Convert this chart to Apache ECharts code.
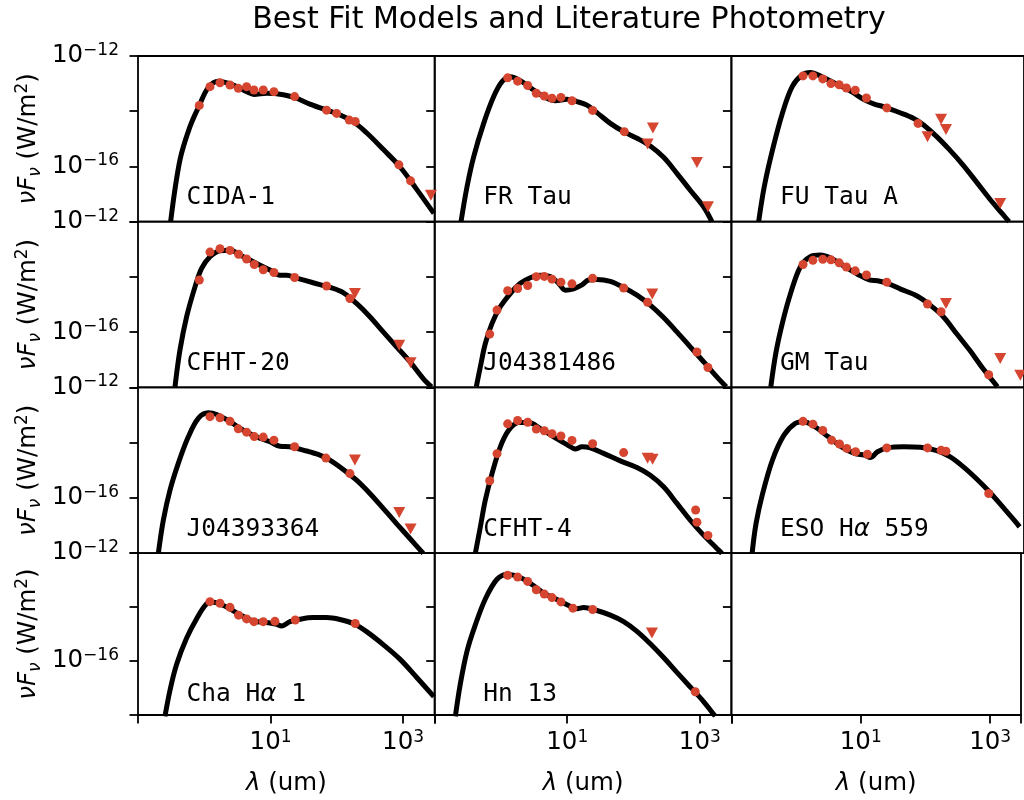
<!DOCTYPE html>
<html><head><meta charset="utf-8">
<script src="https://cdn.jsdelivr.net/npm/echarts@6/dist/echarts.min.js"></script>
<style>html,body{margin:0;padding:0;background:#fff}#c{width:1024px;height:800px}</style>
</head><body><div id="c"></div><script>
// All values are log10: wavelength in um, nuF_nu in W/m^2
const panelNames = ['CIDA-1','FR Tau','FU Tau A','CFHT-20','J04381486','GM Tau','J04393364','CFHT-4','ESO H{a|α} 559','Cha H{a|α} 1','Hn 13'];
const xTickValues = [1, 3];
const yTickValues = [-12, -16];

const cida1ModelLogLam = [-0.507,-0.367,-0.216,-0.075,0.061,0.212,0.438,0.639,0.750,0.941,1.192,1.368,1.594,1.846,1.997,2.248,2.449,2.700,2.952,3.203,3.465];
const cida1ModelLogF   = [-17.99,-15.77,-14.56,-13.79,-13.14,-12.91,-13.05,-13.29,-13.39,-13.35,-13.40,-13.51,-13.74,-13.96,-14.08,-14.38,-14.78,-15.38,-16.01,-16.82,-17.70];
const cida1PhotLogLam  = [-0.075,0.086,0.237,0.388,0.513,0.639,0.750,0.890,1.051,1.363,1.846,1.997,2.188,2.278,2.937,3.113];
const cida1PhotLogF    = [-13.79,-13.11,-12.97,-13.05,-13.17,-13.11,-13.23,-13.23,-13.29,-13.47,-13.96,-14.08,-14.32,-14.37,-15.94,-16.52];
const cida1LimLogLam   = [3.42];
const cida1LimLogF     = [-17.04];

const frModelLogLam = [-0.603,-0.512,-0.412,-0.261,-0.110,0.016,0.141,0.292,0.493,0.669,0.820,0.996,1.147,1.298,1.448,1.650,1.851,2.052,2.253,2.454,2.655,2.856,3.057,3.183];
const frModelLogF   = [-18.00,-16.73,-15.65,-14.44,-13.47,-12.93,-12.75,-12.89,-13.23,-13.50,-13.62,-13.57,-13.65,-13.78,-14.05,-14.44,-14.74,-14.98,-15.26,-15.67,-16.25,-16.86,-17.46,-18.00];
const frPhotLogLam  = [0.101,0.252,0.403,0.533,0.654,0.770,0.905,1.071,1.383,1.861];
const frPhotLogF    = [-12.79,-12.91,-13.07,-13.35,-13.45,-13.53,-13.50,-13.62,-13.97,-14.74];
const frLimLogLam   = [2.213,2.293,2.957,3.123];
const frLimLogF     = [-15.19,-14.61,-15.86,-17.46];

const fuModelLogLam = [-0.583,-0.497,-0.372,-0.221,-0.070,0.081,0.207,0.383,0.584,0.835,1.036,1.187,1.338,1.539,1.790,1.941,2.142,2.343,2.545,2.746,2.947,3.148,3.248];
const fuModelLogF   = [-18.00,-16.73,-15.41,-14.08,-13.11,-12.69,-12.60,-12.75,-12.99,-13.29,-13.59,-13.74,-13.84,-14.02,-14.26,-14.50,-14.92,-15.41,-15.95,-16.55,-17.16,-17.72,-18.00];
const fuPhotLogLam  = [0.096,0.247,0.398,0.523,0.649,0.760,0.895,1.066,1.378,1.856];
const fuPhotLogF    = [-12.72,-12.72,-12.83,-13.00,-13.04,-13.16,-13.24,-13.52,-13.88,-14.44];
const fuLimLogLam   = [2.001,2.208,2.283,3.113];
const fuLimLogF     = [-14.92,-14.29,-14.66,-17.34];

const c20ModelLogLam = [-0.442,-0.367,-0.266,-0.140,-0.040,0.086,0.237,0.388,0.589,0.790,0.991,1.142,1.242,1.393,1.644,1.896,2.097,2.298,2.499,2.700,2.901,3.103,3.304,3.429];
const c20ModelLogF   = [-17.98,-16.65,-15.44,-14.36,-13.69,-13.27,-13.05,-13.03,-13.27,-13.51,-13.75,-13.94,-13.94,-14.04,-14.21,-14.38,-14.57,-14.96,-15.44,-15.99,-16.53,-17.07,-17.68,-17.98];
const c20PhotLogLam  = [-0.075,0.086,0.237,0.388,0.518,0.639,0.755,0.890,1.051,1.363,1.846,2.198];
const c20PhotLogF    = [-14.11,-13.10,-12.98,-13.04,-13.18,-13.35,-13.55,-13.74,-13.84,-14.02,-14.33,-14.78];
const c20LimLogLam   = [2.273,2.942,3.113];
const c20LimLogF     = [-14.60,-16.47,-17.11];

const j1ModelLogLam = [-0.372,-0.311,-0.236,-0.135,-0.010,0.141,0.292,0.443,0.594,0.745,0.870,0.971,1.097,1.222,1.323,1.448,1.650,1.851,2.052,2.253,2.454,2.655,2.856,3.057,3.258,3.399];
const j1ModelLogF   = [-17.98,-17.25,-16.41,-15.68,-15.08,-14.60,-14.23,-14.03,-13.94,-13.99,-14.23,-14.48,-14.43,-14.29,-14.11,-14.09,-14.16,-14.38,-14.66,-15.02,-15.47,-15.99,-16.53,-17.07,-17.62,-17.98];
const j1PhotLogLam  = [-0.170,-0.060,0.101,0.252,0.403,0.533,0.654,0.770,0.905,1.071,1.383,1.851,2.213,2.957,3.123];
const j1PhotLogF    = [-16.07,-15.20,-14.50,-14.42,-14.31,-13.99,-13.98,-14.08,-14.19,-14.25,-14.05,-14.40,-14.92,-16.72,-17.28];
const j1LimLogLam   = [2.283];
const j1LimLogF     = [-14.62];

const gmModelLogLam = [-0.397,-0.321,-0.221,-0.095,0.056,0.207,0.357,0.533,0.735,0.936,1.112,1.237,1.388,1.589,1.841,2.042,2.243,2.444,2.645,2.846,3.072];
const gmModelLogF   = [-17.98,-16.77,-15.68,-14.60,-13.63,-13.27,-13.21,-13.33,-13.63,-13.91,-14.11,-14.14,-14.23,-14.44,-14.69,-15.02,-15.44,-16.05,-16.65,-17.31,-17.98];
const gmPhotLogLam  = [0.096,0.247,0.398,0.523,0.649,0.760,0.895,1.066,1.378,2.001,2.208,2.937];
const gmPhotLogF    = [-13.55,-13.40,-13.36,-13.38,-13.49,-13.64,-13.78,-13.93,-14.19,-14.98,-15.26,-17.54];
const gmLimLogLam   = [2.283,3.113,3.42];
const gmLimLogF     = [-14.96,-16.95,-17.56];

const j2ModelLogLam = [-0.693,-0.618,-0.517,-0.392,-0.241,-0.090,0.061,0.187,0.388,0.589,0.790,0.991,1.142,1.293,1.494,1.745,1.896,2.097,2.298,2.499,2.700,2.901,3.103,3.304];
const j2ModelLogF   = [-18.01,-16.81,-15.72,-14.75,-13.79,-13.12,-12.92,-12.98,-13.24,-13.55,-13.79,-13.97,-14.13,-14.15,-14.27,-14.45,-14.63,-14.97,-15.36,-15.84,-16.38,-16.93,-17.47,-18.01];
const j2PhotLogLam  = [0.086,0.237,0.388,0.513,0.639,0.755,0.890,1.051,1.363,1.836,2.198];
const j2PhotLogF    = [-13.06,-13.10,-13.23,-13.50,-13.62,-13.78,-13.80,-13.91,-14.15,-14.56,-15.12];
const j2LimLogLam   = [2.273,2.942,3.113];
const j2LimLogF     = [-14.63,-16.53,-17.13];

const c4ModelLogLam = [-0.387,-0.311,-0.236,-0.135,-0.010,0.116,0.267,0.418,0.594,0.795,0.996,1.122,1.222,1.348,1.549,1.800,2.052,2.253,2.454,2.655,2.856,3.057,3.258,3.334];
const c4ModelLogF   = [-18.01,-17.05,-16.08,-15.12,-14.15,-13.55,-13.27,-13.27,-13.49,-13.79,-14.07,-14.23,-14.15,-14.19,-14.39,-14.66,-14.90,-15.18,-15.60,-16.20,-16.81,-17.35,-17.83,-18.01];
const c4PhotLogLam  = [-0.170,-0.060,0.101,0.252,0.403,0.533,0.654,0.770,0.905,1.071,1.383,1.851,2.937,2.957,3.123];
const c4PhotLogF    = [-15.38,-14.40,-13.32,-13.20,-13.26,-13.51,-13.57,-13.68,-13.76,-13.92,-14.04,-14.36,-16.44,-16.88,-17.36];
const c4LimLogLam   = [2.213,2.288];
const c4LimLogF     = [-14.57,-14.60];

const esoModelLogLam = [-0.683,-0.623,-0.522,-0.372,-0.196,-0.020,0.106,0.282,0.483,0.684,0.885,1.036,1.127,1.237,1.388,1.639,1.891,2.142,2.343,2.545,2.746,2.947,3.148,3.349,3.409];
const esoModelLogF   = [-18.01,-16.93,-15.84,-14.63,-13.73,-13.30,-13.24,-13.43,-13.79,-14.15,-14.39,-14.45,-14.54,-14.33,-14.19,-14.15,-14.17,-14.29,-14.51,-14.87,-15.30,-15.78,-16.32,-16.87,-17.05];
const esoPhotLogLam  = [0.096,0.247,0.398,0.533,0.654,0.765,0.900,1.081,1.378,2.001,2.208,2.283,2.937];
const esoPhotLogF    = [-13.23,-13.33,-13.56,-13.91,-14.05,-14.21,-14.33,-14.42,-14.19,-14.19,-14.28,-14.31,-15.84];
const esoLimLogLam   = [];
const esoLimLogF     = [];

const chaModelLogLam = [-0.593,-0.517,-0.417,-0.266,-0.115,0.036,0.136,0.337,0.538,0.740,0.941,1.092,1.167,1.293,1.443,1.645,1.846,2.047,2.248,2.449,2.700,2.952,3.203,3.465];
const chaModelLogF   = [-18.05,-17.08,-16.12,-15.15,-14.43,-13.88,-13.82,-14.00,-14.28,-14.52,-14.57,-14.64,-14.70,-14.54,-14.45,-14.39,-14.39,-14.46,-14.61,-14.91,-15.39,-15.93,-16.60,-17.32];
const chaPhotLogLam  = [0.086,0.237,0.388,0.518,0.639,0.750,0.890,1.066,1.373,2.278];
const chaPhotLogF    = [-13.80,-13.86,-14.01,-14.30,-14.44,-14.54,-14.54,-14.53,-14.48,-14.61];
const chaLimLogLam   = [];
const chaLimLogF     = [];

const hnModelLogLam = [-0.688,-0.613,-0.512,-0.387,-0.236,-0.060,0.091,0.242,0.443,0.644,0.845,1.021,1.147,1.247,1.398,1.650,1.851,2.052,2.253,2.454,2.655,2.856,3.057,3.233];
const hnModelLogF   = [-18.05,-16.84,-15.63,-14.66,-13.70,-12.97,-12.79,-12.85,-13.12,-13.48,-13.72,-13.94,-14.06,-14.02,-14.09,-14.30,-14.54,-14.90,-15.36,-15.87,-16.42,-16.96,-17.50,-18.05];
const hnPhotLogLam  = [0.101,0.252,0.403,0.533,0.654,0.770,0.905,1.086,1.383,2.932];
const hnPhotLogF    = [-12.82,-12.89,-13.05,-13.36,-13.52,-13.65,-13.81,-14.04,-14.09,-17.14];
const hnLimLogLam   = [2.278];
const hnLimLogF     = [-14.96];

const panels = [
  [cida1ModelLogLam,cida1ModelLogF,cida1PhotLogLam,cida1PhotLogF,cida1LimLogLam,cida1LimLogF],
  [frModelLogLam,frModelLogF,frPhotLogLam,frPhotLogF,frLimLogLam,frLimLogF],
  [fuModelLogLam,fuModelLogF,fuPhotLogLam,fuPhotLogF,fuLimLogLam,fuLimLogF],
  [c20ModelLogLam,c20ModelLogF,c20PhotLogLam,c20PhotLogF,c20LimLogLam,c20LimLogF],
  [j1ModelLogLam,j1ModelLogF,j1PhotLogLam,j1PhotLogF,j1LimLogLam,j1LimLogF],
  [gmModelLogLam,gmModelLogF,gmPhotLogLam,gmPhotLogF,gmLimLogLam,gmLimLogF],
  [j2ModelLogLam,j2ModelLogF,j2PhotLogLam,j2PhotLogF,j2LimLogLam,j2LimLogF],
  [c4ModelLogLam,c4ModelLogF,c4PhotLogLam,c4PhotLogF,c4LimLogLam,c4LimLogF],
  [esoModelLogLam,esoModelLogF,esoPhotLogLam,esoPhotLogF,esoLimLogLam,esoLimLogF],
  [chaModelLogLam,chaModelLogF,chaPhotLogLam,chaPhotLogF,chaLimLogLam,chaLimLogF],
  [hnModelLogLam,hnModelLogF,hnPhotLogLam,hnPhotLogF,hnLimLogLam,hnLimLogF]
];

const RED = '#d5452f';
const FONT = 'DejaVu Sans';
const GL = 138, GT = 56, GW = 296.7, GH = 165.7;
const pts = (xs, ys) => xs.map((x, k) => [x, ys[k]]);

const tickRich = {
  b: {fontSize: 24.5, fontFamily: FONT, color: '#000', lineHeight: 28},
  s: {fontSize: 17, fontFamily: FONT, color: '#000', verticalAlign: 'top', lineHeight: 17}
};

const grids = [], xAxes = [], yAxes = [], series = [], graphics = [];
for (let i = 0; i < 12; i++) {
  const r = Math.floor(i / 3), c = i % 3;
  const left = GL + c * GW, top = GT + r * GH;
  const bottom = (r === 3);
  grids.push({left: left, top: top, width: GW, height: GH, show: true, borderColor: '#000', borderWidth: 1.8, backgroundColor: 'rgba(0,0,0,0)', containLabel: false});
  xAxes.push({
    gridIndex: i, type: 'value', min: -1, max: 3.477, interval: 2, position: 'bottom',
    splitLine: {show: false}, axisLine: {show: false, onZero: false},
    axisTick: {show: bottom, inside: false, length: 8.5, lineStyle: {color: '#000', width: 1.8}},
    axisLabel: {show: bottom, margin: 14, formatter: v => xTickValues.indexOf(v) >= 0 ? '{b|10}{s|' + v + '}' : '', rich: tickRich},
    name: bottom ? '{i|λ} (um)' : '', nameLocation: 'middle', nameGap: 54,
    nameTextStyle: {fontFamily: FONT, fontSize: 24.5, color: '#000', lineHeight: 30,
      rich: {i: {fontFamily: FONT, fontSize: 24.5, fontStyle: 'italic', color: '#000', lineHeight: 30}}}
  });
  yAxes.push({
    gridIndex: i, type: 'value', min: -18, max: -12, interval: 2, position: 'left',
    splitLine: {show: false}, axisLine: {show: false, onZero: false},
    axisTick: {show: true, inside: false, length: 8.5, lineStyle: {color: '#000', width: 1.8}},
    axisLabel: {show: c === 0, margin: 19, formatter: v => yTickValues.indexOf(v) >= 0 ? '{b|10}{s|\u2212' + (-v) + '}' : '', rich: tickRich},
    name: c === 0 ? '{i|νF}{sub|ν} (W/m{sup|2})' : '', nameLocation: 'middle', nameGap: 94,
    nameTextStyle: {fontFamily: FONT, fontSize: 24.5, color: '#000', lineHeight: 30,
      rich: {
        i: {fontFamily: FONT, fontSize: 24.5, fontStyle: 'italic', color: '#000', lineHeight: 30},
        sub: {fontFamily: FONT, fontSize: 17, fontStyle: 'italic', color: '#000', verticalAlign: 'bottom', lineHeight: 20},
        sup: {fontFamily: FONT, fontSize: 17, color: '#000', verticalAlign: 'top', lineHeight: 17}
      }}
  });
  if (i < panels.length) {
    const p = panels[i];
    series.push({type: 'line', xAxisIndex: i, yAxisIndex: i, data: pts(p[0], p[1]), symbol: 'none', showSymbol: false,
      smooth: 0.35, lineStyle: {color: '#000', width: 5}, clip: true, z: 2, silent: true});
    series.push({type: 'scatter', xAxisIndex: i, yAxisIndex: i, data: pts(p[2], p[3]), symbol: 'circle', symbolSize: 9,
      itemStyle: {color: RED, opacity: 1}, z: 3, silent: true});
    if (p[4].length) series.push({type: 'scatter', xAxisIndex: i, yAxisIndex: i, data: pts(p[4], p[5]), symbol: 'triangle', symbolRotate: 180,
      symbolSize: [12, 11], itemStyle: {color: RED, opacity: 1}, z: 3, silent: true});
    graphics.push({type: 'text', x: left + 48.5, y: top + 142, z: 10,
      style: {text: panelNames[i], fontFamily: 'DejaVu Sans Mono', fontSize: 24.5, fill: '#000', align: 'left', verticalAlign: 'middle',
        rich: {a: {fontFamily: FONT, fontStyle: 'italic', fontSize: 24.5, fill: '#000'}}}});
  }
}
graphics.push({type: 'text', x: 569, y: 20.5, style: {text: 'Best Fit Models and Literature Photometry', fontFamily: FONT, fontSize: 30, fill: '#000', align: 'center', verticalAlign: 'middle'}});

const chart = echarts.init(document.getElementById('c'), null, {renderer: 'canvas'});
chart.setOption({
  animation: false, backgroundColor: '#fff',
  grid: grids, xAxis: xAxes, yAxis: yAxes, series: series, graphic: graphics
});
</script></body></html>
